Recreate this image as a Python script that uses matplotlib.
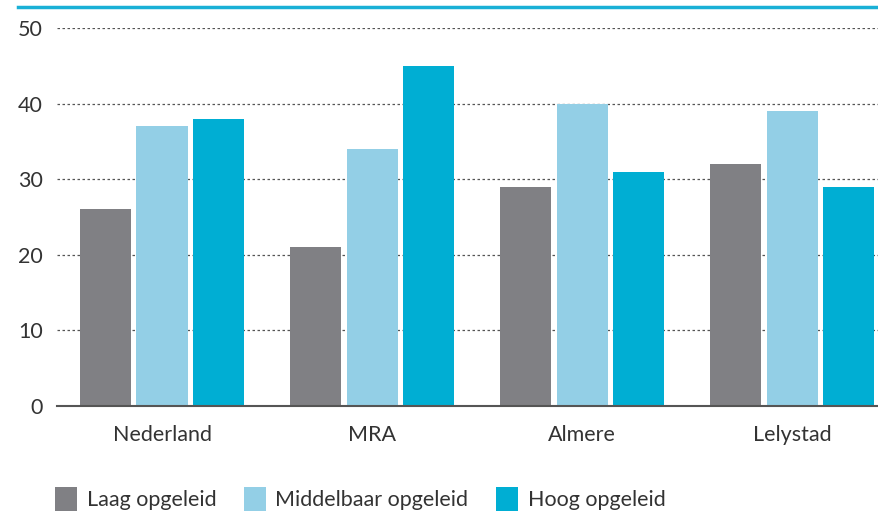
import numpy as np
import matplotlib.pyplot as plt
from matplotlib.lines import Line2D

plt.rcParams['font.family'] = ['Lato', 'DejaVu Sans']

regios = ['Nederland', 'MRA', 'Almere', 'Lelystad']
laag = [26, 21, 29, 32]
middelbaar = [37, 34, 40, 39]
hoog = [38, 45, 31, 29]
reeksen = ['Laag opgeleid', 'Middelbaar opgeleid', 'Hoog opgeleid']
kleuren = ['#808084', '#93cfe6', '#00aed3']

fig = plt.figure(figsize=(8.79, 5.11), dpi=100)
ax = fig.add_axes([57/879, 1-406/511, 1-57/879, (406-28)/511])

x = np.arange(len(regios))
breedte = 0.243
stap = 0.267
for k, (waarden, kleur, naam) in enumerate(zip([laag, middelbaar, hoog], kleuren, reeksen)):
    ax.bar(x + (k-1)*stap, waarden, width=breedte, color=kleur, label=naam, zorder=3)

ax.set_xlim(-0.5, 3.414)
ax.set_ylim(0, 50)
ax.set_yticks(range(0, 51, 10))
ax.set_xticks(x)
ax.set_xticklabels(regios)
ax.tick_params(length=0, labelsize=15.5, colors='#333333')
ax.tick_params(axis='y', pad=10)
ax.tick_params(axis='x', pad=14)
for yv in range(10, 51, 10):
    ax.axhline(yv, color='#555555', lw=0.9, ls=(0, (2, 2)), zorder=1)
for s in ['top', 'right', 'left']:
    ax.spines[s].set_visible(False)
ax.spines['bottom'].set_color('#555555')
ax.spines['bottom'].set_linewidth(1.5)
ax.spines['bottom'].set_zorder(4)

# blauwe lijn bovenaan
fig.add_artist(Line2D([18/879, 1], [1-7/511, 1-7/511], color='#1ab0d6', lw=2.5))

fig.legend(loc='center left', bbox_to_anchor=(36/879, 1-499/511), ncol=3, frameon=False,
           fontsize=15.5, handlelength=1.0, handleheight=1.4, handletextpad=0.45,
           columnspacing=1.3, labelcolor='#333333')

fig.savefig('out.png', dpi=100)
